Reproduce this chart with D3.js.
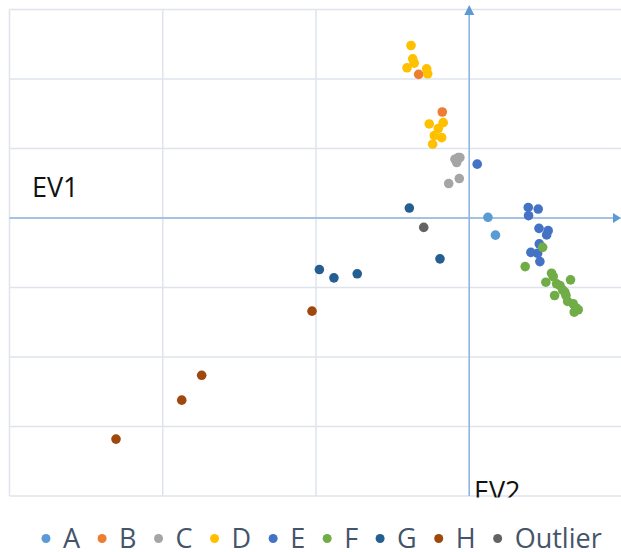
<!DOCTYPE html>
<html>
<head>
<meta charset="utf-8">
<script src="https://cdn.jsdelivr.net/npm/d3@7"></script>
<style>
  html, body { margin: 0; padding: 0; background: #fff; }
  svg { display: block; }
</style>
</head>
<body>
<svg id="chart" width="621" height="552"></svg>
<script>
// ---- Data ----
const seriesNames = ["A", "B", "C", "D", "E", "F", "G", "H", "Outlier"];
const seriesColors = ["#5B9BD5", "#ED7D31", "#A5A5A5", "#FFC000", "#4472C4", "#70AD47", "#255E91", "#9E480E", "#636363"];

const seriesA = [[0.122, 0.010], [0.171, -0.247]];
const seriesB = [[-0.330, 2.066], [-0.176, 1.525]];
const seriesC = [[-0.093, 0.846], [-0.072, 0.869], [-0.082, 0.798], [-0.061, 0.869], [-0.065, 0.568], [-0.134, 0.496]];
const seriesD = [[-0.380, 2.482], [-0.369, 2.290], [-0.359, 2.228], [-0.406, 2.161], [-0.278, 2.146], [-0.271, 2.075],
                 [-0.170, 1.372], [-0.261, 1.353], [-0.202, 1.286], [-0.228, 1.185], [-0.180, 1.156], [-0.239, 1.062]];
const seriesE = [[0.052, 0.775], [0.385, 0.152], [0.450, 0.129], [0.387, 0.033], [0.455, -0.149], [0.515, -0.182],
                 [0.505, -0.244], [0.457, -0.373], [0.402, -0.494], [0.446, -0.508], [0.461, -0.627]];
const seriesF = [[0.479, -0.422], [0.365, -0.699], [0.537, -0.795], [0.548, -0.842], [0.661, -0.890], [0.500, -0.924],
                 [0.570, -0.947], [0.592, -0.971], [0.609, -1.033], [0.624, -1.067], [0.557, -1.115], [0.631, -1.115],
                 [0.642, -1.201], [0.678, -1.234], [0.696, -1.291], [0.711, -1.320], [0.685, -1.354]];
const seriesG = [[-0.391, 0.143], [-0.191, -0.588], [-0.978, -0.742], [-0.883, -0.861], [-0.731, -0.803]];
const seriesH = [[-1.026, -1.340], [-1.746, -2.263], [-1.876, -2.621], [-2.305, -3.181]];
const seriesOutlier = [[-0.297, -0.135]];

const seriesValues = [seriesA, seriesB, seriesC, seriesD, seriesE, seriesF, seriesG, seriesH, seriesOutlier];

const xTicks = [-3, -2, -1, 0, 1];
const yTicks = [-4, -3, -2, -1, 0, 1, 2, 3];
const xAxisTitle = "EV1";
const yAxisTitle = "EV2";

// ---- Layout ----
const svg = d3.select("#chart");
const plot = { left: 9.5, right: 622.5, top: 9.5, bottom: 496 };

const x = d3.scaleLinear().domain([-3, 1]).range([plot.left, plot.right]);
const y = d3.scaleLinear().domain([-4, 3]).range([plot.bottom, plot.top]);

const FONT = "'Open Sans', 'Noto Sans', sans-serif";

// clip
svg.append("defs").append("clipPath").attr("id", "clip")
  .append("rect").attr("x", plot.left).attr("y", 0).attr("width", 621).attr("height", 497.5);

// gridlines
const grid = svg.append("g");
grid.selectAll("line.v").data(xTicks).join("line")
  .attr("x1", d => x(d)).attr("x2", d => x(d))
  .attr("y1", plot.top).attr("y2", plot.bottom)
  .attr("stroke", "#DEE3EC").attr("stroke-width", 1.5);
grid.selectAll("line.h").data(yTicks).join("line")
  .attr("x1", plot.left).attr("x2", 621)
  .attr("y1", d => y(d)).attr("y2", d => y(d))
  .attr("stroke", "#DEE3EC").attr("stroke-width", 1.5);

// axes through origin with arrowheads
const axisColor = "#8DB4E2";
const arrowColor = "#5B9BD5";
svg.append("line")
  .attr("x1", plot.left).attr("x2", 615)
  .attr("y1", y(0)).attr("y2", y(0))
  .attr("stroke", axisColor).attr("stroke-width", 1.5);
svg.append("path")
  .attr("d", `M621,${y(0)} L613,${y(0) - 5} L613,${y(0) + 5} Z`)
  .attr("fill", arrowColor);
svg.append("line")
  .attr("x1", x(0)).attr("x2", x(0))
  .attr("y1", plot.bottom).attr("y2", 14)
  .attr("stroke", axisColor).attr("stroke-width", 1.5);
svg.append("path")
  .attr("d", `M${x(0)},5 L${x(0) - 5},15 L${x(0) + 5},15 Z`)
  .attr("fill", arrowColor);

// axis titles
svg.append("text")
  .attr("x", 32).attr("y", 196.5)
  .attr("font-family", FONT).attr("font-size", 27)
  .attr("fill", "#111")
  .text(xAxisTitle);
svg.append("g").attr("clip-path", "url(#clip)")
  .append("text")
  .attr("x", 474).attr("y", 500.5)
  .attr("font-family", FONT).attr("font-size", 27)
  .attr("fill", "#111")
  .text(yAxisTitle);

// points
const pts = svg.append("g");
seriesValues.forEach((vals, i) => {
  pts.append("g").selectAll("circle").data(vals).join("circle")
    .attr("cx", d => x(d[0])).attr("cy", d => y(d[1]))
    .attr("r", 4.8)
    .attr("fill", seriesColors[i]);
});

// legend
const legend = svg.append("g");
let cx = 46;
seriesNames.forEach((name, i) => {
  legend.append("circle").attr("cx", cx).attr("cy", 538.5).attr("r", 4.5).attr("fill", seriesColors[i]);
  const t = legend.append("text")
    .attr("x", cx + 17).attr("y", 547.8)
    .attr("font-family", FONT).attr("font-size", 27)
    .attr("fill", "#44546A")
    .text(name);
  const w = t.node().getComputedTextLength();
  cx = cx + 17 + w + 22;
});
</script>
</body>
</html>
